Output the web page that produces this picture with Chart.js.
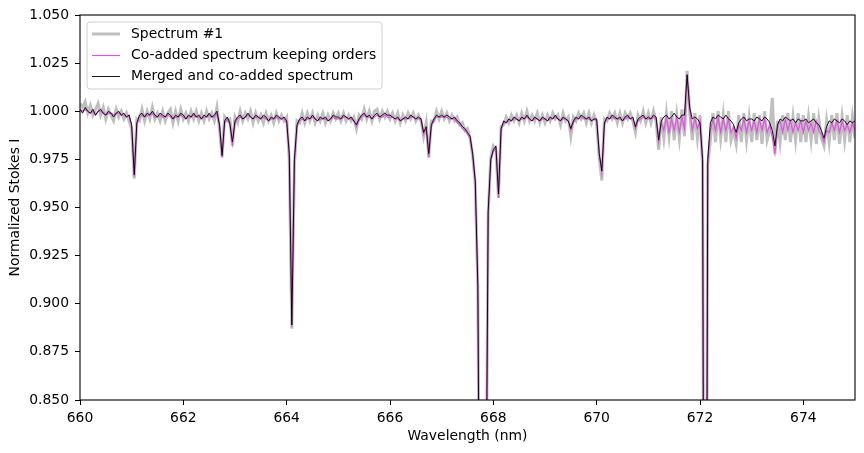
<!DOCTYPE html>
<html>
<head>
<meta charset="utf-8">
<script src="https://cdn.jsdelivr.net/npm/chart.js@4.4.0/dist/chart.umd.min.js"></script>
<style>
  html, body { margin: 0; padding: 0; background: #fff; }
  #wrap { width: 864px; height: 453px; }
</style>
</head>
<body>
<div id="wrap"><canvas id="chart" width="864" height="453"></canvas></div>
<script>
// wavelength grid (nm), sampled every 0.05 nm from 660 to 675
const waveStart = 660;
const waveStep = 0.05;

// Spectrum #1 (single exposure, noisy)
const spectrum1 = [
  1.004, 1.002, 1.005, 0.999, 1.003, 0.998, 1.001, 1.004, 0.998, 1.002, 0.996, 1.001, 0.998, 0.995, 1.001, 0.997, 1.000, 0.996, 0.999, 0.995,
  0.991, 0.965, 0.996, 0.995, 1.001, 0.995, 1.000, 0.996, 1.002, 0.996, 0.999, 0.995, 1.000, 0.995, 0.999, 1.001, 0.994, 1.000, 0.995, 1.001,
  0.996, 0.999, 0.995, 1.000, 0.996, 1.000, 0.995, 0.999, 0.995, 1.000, 0.996, 0.999, 0.995, 1.002, 0.991, 0.976, 0.997, 0.995, 0.996, 0.982,
  0.997, 0.994, 1.000, 0.995, 0.999, 0.996, 1.000, 0.994, 0.999, 0.995, 0.998, 0.994, 0.999, 0.995, 0.998, 0.994, 0.999, 0.995, 0.998, 0.995,
  0.997, 0.975, 0.887, 0.972, 0.995, 0.994, 0.999, 0.994, 0.999, 0.995, 0.999, 0.994, 0.998, 0.995, 0.999, 0.994, 0.998, 0.995, 0.999, 0.996,
  0.999, 0.995, 0.999, 0.995, 0.998, 0.995, 0.997, 0.991, 0.998, 0.996, 1.001, 0.996, 1.000, 0.995, 1.000, 1.001, 0.996, 1.000, 0.997, 1.000,
  0.996, 0.999, 0.995, 0.999, 0.994, 0.998, 0.995, 0.999, 0.996, 0.999, 0.995, 0.998, 0.995, 0.987, 0.994, 0.976, 0.995, 0.995, 1.000, 0.996,
  1.000, 0.996, 0.999, 0.995, 0.998, 0.995, 0.997, 0.993, 0.994, 0.990, 0.991, 0.986, 0.977, 0.962, 0.908, 0.700, 0.620, 0.750, 0.946, 0.976,
  0.982, 0.980, 0.955, 0.992, 0.993, 0.997, 0.994, 0.998, 0.995, 0.998, 0.994, 0.999, 0.995, 1.000, 0.995, 0.998, 0.995, 0.999, 0.994, 0.998,
  0.994, 0.998, 0.995, 0.999, 0.996, 0.998, 0.993, 0.999, 0.995, 0.997, 0.987, 0.997, 0.995, 0.999, 0.996, 0.999, 0.994, 0.999, 0.994, 0.998,
  0.994, 0.976, 0.964, 0.996, 0.995, 0.999, 0.996, 0.999, 0.994, 0.999, 0.994, 0.999, 0.996, 0.999, 0.995, 0.989, 0.998, 0.995, 1.000, 0.994,
  0.999, 0.994, 1.000, 0.995, 0.980, 0.997, 0.986, 0.999, 0.987, 1.000, 0.985, 0.998, 0.986, 1.001, 0.987, 1.021, 1.000, 0.985, 0.999, 0.986,
  0.998, 0.972, 0.500, 0.972, 0.985, 0.999, 0.984, 1.000, 0.986, 0.998, 0.984, 1.000, 0.985, 0.990, 0.983, 0.998, 0.984, 0.999, 0.985, 0.997,
  0.984, 0.999, 0.985, 0.998, 0.983, 1.000, 0.985, 0.990, 1.007, 0.978, 0.995, 0.984, 0.998, 0.985, 0.999, 0.984, 0.997, 0.985, 0.999, 0.984,
  0.998, 0.984, 0.997, 0.985, 0.999, 0.983, 0.996, 0.986, 0.982, 0.995, 0.984, 0.998, 0.985, 0.999, 0.983, 0.997, 0.985, 0.998, 0.984, 0.997, 0.986
];

// Co-added spectrum keeping orders (overlapping orders visible past 671.2 nm)
const coaddOrders = [
  1.001, 1.000, 1.001, 1.000, 0.999, 1.000, 0.998, 1.000, 1.000, 0.999, 0.998, 0.999, 0.999, 0.998, 0.999, 0.999, 0.998, 0.998, 0.997, 0.998,
  0.992, 0.966, 0.993, 0.997, 0.998, 0.997, 0.998, 0.998, 0.999, 0.997, 0.997, 0.998, 0.997, 0.997, 0.998, 0.997, 0.996, 0.997, 0.997, 0.998,
  0.997, 0.996, 0.997, 0.997, 0.998, 0.997, 0.997, 0.996, 0.997, 0.997, 0.998, 0.997, 0.997, 0.999, 0.992, 0.976, 0.994, 0.996, 0.993, 0.983,
  0.994, 0.996, 0.997, 0.996, 0.997, 0.998, 0.997, 0.996, 0.997, 0.997, 0.996, 0.997, 0.996, 0.995, 0.996, 0.996, 0.997, 0.996, 0.996, 0.996,
  0.994, 0.978, 0.888, 0.974, 0.992, 0.995, 0.996, 0.995, 0.996, 0.996, 0.997, 0.996, 0.995, 0.996, 0.996, 0.996, 0.995, 0.996, 0.997, 0.996,
  0.996, 0.996, 0.997, 0.997, 0.996, 0.996, 0.995, 0.992, 0.995, 0.997, 0.998, 0.997, 0.997, 0.996, 0.997, 0.998, 0.997, 0.997, 0.998, 0.997,
  0.997, 0.997, 0.996, 0.996, 0.995, 0.996, 0.996, 0.996, 0.997, 0.997, 0.996, 0.996, 0.996, 0.988, 0.991, 0.976, 0.992, 0.995, 0.997, 0.997,
  0.997, 0.997, 0.997, 0.996, 0.996, 0.996, 0.994, 0.993, 0.991, 0.990, 0.988, 0.986, 0.977, 0.963, 0.908, 0.700, 0.620, 0.750, 0.946, 0.974,
  0.979, 0.981, 0.955, 0.990, 0.994, 0.994, 0.995, 0.995, 0.996, 0.996, 0.995, 0.996, 0.996, 0.997, 0.996, 0.995, 0.996, 0.996, 0.995, 0.996,
  0.996, 0.995, 0.996, 0.996, 0.997, 0.996, 0.995, 0.996, 0.996, 0.995, 0.990, 0.994, 0.996, 0.996, 0.997, 0.996, 0.996, 0.996, 0.995, 0.996,
  0.995, 0.977, 0.968, 0.993, 0.996, 0.996, 0.997, 0.996, 0.996, 0.996, 0.995, 0.996, 0.997, 0.996, 0.996, 0.991, 0.995, 0.996, 0.997, 0.996,
  0.996, 0.996, 0.997, 0.996, 0.984, 0.994, 0.990, 0.997, 0.989, 0.996, 0.990, 0.997, 0.989, 0.997, 0.991, 1.019, 1.001, 0.990, 0.996, 0.991,
  0.995, 0.974, 0.500, 0.973, 0.990, 0.996, 0.990, 0.997, 0.989, 0.996, 0.990, 0.996, 0.989, 0.992, 0.986, 0.993, 0.990, 0.996, 0.989, 0.995,
  0.990, 0.995, 0.989, 0.996, 0.990, 0.996, 0.989, 0.993, 0.986, 0.978, 0.991, 0.995, 0.989, 0.996, 0.990, 0.995, 0.989, 0.994, 0.990, 0.995,
  0.989, 0.995, 0.990, 0.994, 0.989, 0.995, 0.990, 0.988, 0.984, 0.990, 0.989, 0.994, 0.990, 0.995, 0.989, 0.995, 0.990, 0.993, 0.989, 0.994, 0.990
];

// Merged and co-added spectrum
const merged = [
  1.001, 0.999, 1.002, 1.000, 0.999, 1.001, 0.998, 1.000, 1.001, 0.999, 0.998, 1.000, 0.999, 0.997, 0.999, 1.000, 0.998, 0.999, 0.997, 0.998,
  0.993, 0.967, 0.994, 0.998, 0.999, 0.997, 0.999, 0.998, 1.000, 0.998, 0.997, 0.999, 0.998, 0.997, 0.999, 0.998, 0.996, 0.998, 0.997, 0.999,
  0.998, 0.996, 0.998, 0.997, 0.999, 0.997, 0.998, 0.996, 0.998, 0.997, 0.999, 0.997, 0.998, 1.000, 0.993, 0.977, 0.995, 0.997, 0.994, 0.984,
  0.995, 0.997, 0.998, 0.996, 0.997, 0.999, 0.997, 0.996, 0.998, 0.997, 0.996, 0.998, 0.997, 0.995, 0.997, 0.996, 0.998, 0.997, 0.996, 0.997,
  0.995, 0.978, 0.889, 0.975, 0.993, 0.996, 0.997, 0.995, 0.997, 0.996, 0.998, 0.996, 0.995, 0.997, 0.996, 0.997, 0.995, 0.996, 0.998, 0.997,
  0.997, 0.996, 0.998, 0.997, 0.996, 0.997, 0.995, 0.993, 0.996, 0.998, 0.999, 0.997, 0.998, 0.996, 0.998, 0.999, 0.997, 0.998, 0.999, 0.998,
  0.998, 0.997, 0.996, 0.997, 0.995, 0.996, 0.997, 0.996, 0.998, 0.997, 0.996, 0.997, 0.996, 0.989, 0.992, 0.978, 0.993, 0.996, 0.998, 0.997,
  0.998, 0.997, 0.998, 0.997, 0.996, 0.997, 0.995, 0.994, 0.992, 0.991, 0.989, 0.987, 0.978, 0.964, 0.910, 0.700, 0.620, 0.750, 0.948, 0.975,
  0.980, 0.982, 0.957, 0.991, 0.995, 0.994, 0.996, 0.995, 0.997, 0.996, 0.995, 0.997, 0.996, 0.998, 0.996, 0.995, 0.997, 0.996, 0.995, 0.997,
  0.996, 0.995, 0.997, 0.996, 0.998, 0.996, 0.995, 0.997, 0.996, 0.995, 0.991, 0.995, 0.997, 0.996, 0.998, 0.997, 0.996, 0.997, 0.995, 0.996,
  0.996, 0.978, 0.969, 0.994, 0.997, 0.996, 0.998, 0.997, 0.996, 0.997, 0.995, 0.997, 0.998, 0.996, 0.997, 0.992, 0.996, 0.997, 0.998, 0.996,
  0.997, 0.996, 0.998, 0.997, 0.985, 0.995, 0.997, 0.998, 0.996, 0.997, 0.999, 0.997, 0.996, 0.998, 0.998, 1.019, 1.002, 0.996, 0.997, 0.996,
  0.994, 0.975, 0.500, 0.975, 0.994, 0.997, 0.996, 0.998, 0.997, 0.996, 0.998, 0.996, 0.995, 0.993, 0.989, 0.994, 0.996, 0.997, 0.995, 0.996,
  0.996, 0.995, 0.997, 0.996, 0.995, 0.997, 0.996, 0.994, 0.990, 0.982, 0.993, 0.996, 0.995, 0.997, 0.996, 0.995, 0.996, 0.994, 0.996, 0.995,
  0.995, 0.996, 0.994, 0.995, 0.996, 0.994, 0.993, 0.990, 0.986, 0.992, 0.995, 0.994, 0.996, 0.995, 0.994, 0.996, 0.995, 0.993, 0.995, 0.994, 0.995
];

const xTicks = [660, 662, 664, 666, 668, 670, 672, 674];
const yTicks = [0.850, 0.875, 0.900, 0.925, 0.950, 0.975, 1.000, 1.025, 1.050];

const labels = ["Spectrum #1", "Co-added spectrum keeping orders", "Merged and co-added spectrum"];
const colors = ["#bfbfbf", "#dd55dd", "#000000"];
const widths = [3.0, 1.2, 0.9];

function toPoints(values) {
  return values.map((v, i) => ({ x: +(waveStart + i * waveStep).toFixed(2), y: v }));
}

const FONT = "'DejaVu Sans', sans-serif";
Chart.defaults.font.family = FONT;
Chart.defaults.font.size = 13.9;
Chart.defaults.color = "#000";

// box around the plot + legend in the upper left corner
const framePlugin = {
  id: "frame",
  afterDraw(chart) {
    const { ctx, chartArea: a } = chart;
    ctx.save();
    ctx.strokeStyle = "#000";
    ctx.lineWidth = 1.1;
    ctx.strokeRect(a.left, a.top, a.right - a.left, a.bottom - a.top);

    // legend
    const bx = 87, by = 22, bw = 295, bh = 67, r = 3;
    ctx.beginPath();
    ctx.moveTo(bx + r, by);
    ctx.arcTo(bx + bw, by, bx + bw, by + bh, r);
    ctx.arcTo(bx + bw, by + bh, bx, by + bh, r);
    ctx.arcTo(bx, by + bh, bx, by, r);
    ctx.arcTo(bx, by, bx + bw, by, r);
    ctx.closePath();
    ctx.fillStyle = "rgba(255,255,255,0.8)";
    ctx.fill();
    ctx.strokeStyle = "#d0d0d0";
    ctx.lineWidth = 1;
    ctx.stroke();

    ctx.font = "13.9px " + FONT;
    ctx.textBaseline = "middle";
    ctx.textAlign = "left";
    chart.data.datasets.forEach((ds, i) => {
      const y = by + 12 + i * 21;
      // half-pixel offset keeps the thin lines crisp
      const ly = ds.borderWidth < 2 ? y + 0.5 : y;
      ctx.beginPath();
      ctx.moveTo(92, ly);
      ctx.lineTo(120, ly);
      ctx.strokeStyle = ds.borderColor;
      ctx.lineWidth = ds.borderWidth;
      ctx.stroke();
      ctx.fillStyle = "#000";
      ctx.fillText(ds.label, 131, y);
    });
    ctx.restore();
  }
};

const datasets = [spectrum1, coaddOrders, merged].map((vals, i) => ({
  label: labels[i],
  data: toPoints(vals),
  borderColor: colors[i],
  borderWidth: widths[i],
  pointRadius: 0,
  tension: 0,
  fill: false,
  order: 3 - i
}));

new Chart(document.getElementById("chart"), {
  type: "line",
  data: { datasets },
  options: {
    responsive: false,
    animation: false,
    events: [],
    layout: { padding: { top: 15, right: 9, left: 0, bottom: 0 } },
    plugins: { legend: { display: false }, tooltip: { enabled: false } },
    scales: {
      x: {
        type: "linear",
        min: 660,
        max: 675,
        afterBuildTicks: s => { s.ticks = xTicks.map(v => ({ value: v })); },
        afterFit: s => { s.height = 53; },
        ticks: { padding: 5, color: "#000", callback: v => String(v) },
        grid: { drawOnChartArea: false, tickLength: 5, color: "#000", lineWidth: 1 },
        border: { display: false },
        title: { display: true, text: "Wavelength (nm)", color: "#000", padding: { top: 0, bottom: 8 } }
      },
      y: {
        type: "linear",
        min: 0.85,
        max: 1.05,
        afterBuildTicks: s => { s.ticks = yTicks.map(v => ({ value: v })); },
        afterFit: s => { s.width = 80; },
        ticks: { padding: 6, color: "#000", callback: v => Number(v).toFixed(3) },
        grid: { drawOnChartArea: false, tickLength: 5, color: "#000", lineWidth: 1 },
        border: { display: false },
        title: { display: true, text: "Normalized Stokes I", color: "#000", padding: { top: 7, bottom: 0 } }
      }
    }
  },
  plugins: [framePlugin]
});
</script>
</body>
</html>
